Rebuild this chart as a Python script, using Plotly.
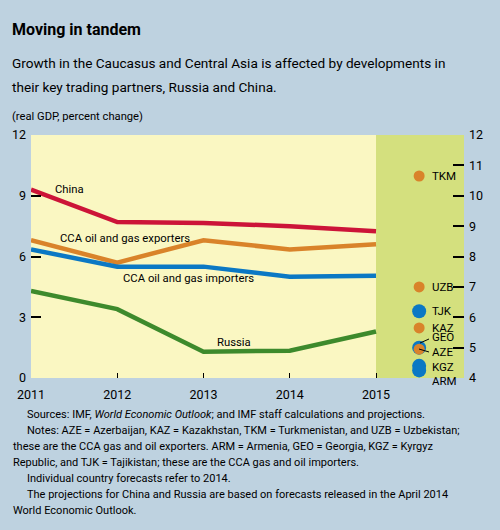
import plotly.graph_objects as go

# real GDP, percent change
years = [2011, 2012, 2013, 2014, 2015]
china = [9.3, 7.7, 7.65, 7.5, 7.25]
cca_exporters = [6.8, 5.7, 6.8, 6.35, 6.6]
cca_importers = [6.35, 5.5, 5.5, 5.0, 5.05]
russia = [4.3, 3.4, 1.3, 1.35, 2.3]

# individual country forecasts (2014), right axis
exporter_codes = ["TKM", "UZB", "KAZ", "AZE"]
exporter_vals = [10.65, 7.0, 5.65, 4.95]
importer_codes = ["TJK", "GEO", "KGZ", "ARM"]
importer_vals = [6.2, 5.0, 4.4, 4.25]
country_x = 2015.5

left_ticks = [0, 3, 6, 9, 12]
right_ticks = [4, 5, 6, 7, 8, 9, 10, 11, 12]

FONT = "Roboto, Lato, sans-serif"
BG = "#BED2E0"
YELLOW = "#FAF7C2"
GREEN_BAND = "#D4E07E"
RED = "#CC1438"
ORANGE = "#D9832A"
BLUE = "#0B78C4"
GREEN = "#3D8A2C"

# plot area in pixels (for placing text outside the axes)
L, R, T, B = 31, 464, 135, 378


def px(x, y):
    return (x - L) / (R - L), (B - y) / (B - T)


def fnt(size):
    return dict(family=FONT, size=size, color="black")


fig = go.Figure()

for vals, col, name in [(china, RED, "China"),
                        (cca_exporters, ORANGE, "CCA oil and gas exporters"),
                        (cca_importers, BLUE, "CCA oil and gas importers"),
                        (russia, GREEN, "Russia")]:
    fig.add_trace(go.Scatter(x=years, y=vals, mode="lines", name=name,
                             line=dict(color=col, width=4.5), cliponaxis=False))

fig.add_trace(go.Scatter(x=[country_x] * len(importer_vals), y=importer_vals, yaxis="y2",
                         mode="markers", marker=dict(color=BLUE, size=14),
                         cliponaxis=False))
fig.add_trace(go.Scatter(x=[country_x] * len(exporter_vals), y=exporter_vals, yaxis="y2",
                         mode="markers", marker=dict(color=ORANGE, size=11),
                         cliponaxis=False))

annotations = []


def text(x, y, s, size=13, xanchor="left"):
    xp, yp = px(x, y)
    annotations.append(dict(x=xp, y=yp, xref="paper", yref="paper", text=s,
                            showarrow=False, xanchor=xanchor, yanchor="middle",
                            font=fnt(size)))


text(10, 29, "<b>Moving in tandem</b>", size=16)
text(10, 63, "Growth in the Caucasus and Central Asia is affected by developments in", size=13.6)
text(10, 87, "their key trading partners, Russia and China.", size=13.6)
text(10, 116, "(real GDP, percent change)", size=11.2)

notes = [
    (25, "Sources: IMF, <i>World Economic Outlook</i>; and IMF staff calculations and projections."),
    (25, "Notes: AZE = Azerbaijan, KAZ = Kazakhstan, TKM = Turkmenistan, and UZB = Uzbekistan;"),
    (11, "these are the CCA gas and oil exporters. ARM = Armenia, GEO = Georgia, KGZ = Kyrgyz"),
    (11, "Republic, and TJK = Tajikistan; these are the CCA gas and oil importers."),
    (25, "Individual country forecasts refer to 2014."),
    (25, "The projections for China and Russia are based on forecasts released in the April 2014"),
    (11, "World Economic Outlook."),
]
for i, (x0, s) in enumerate(notes):
    text(x0, 414 + 16 * i, s, size=11)

# line labels
for lx, ly, s in [(2011.26, 9.3, "China"),
                  (2011.31, 6.9, "CCA oil and gas exporters"),
                  (2012.04, 4.92, "CCA oil and gas importers"),
                  (2013.13, 1.74, "Russia")]:
    annotations.append(dict(x=lx, y=ly, xref="x", yref="y", text=s, showarrow=False,
                            xanchor="left", yanchor="middle", font=fnt(11.3)))

# country labels
label_shift = {"TKM": 0, "UZB": 0, "KAZ": 0, "AZE": -3,
               "TJK": 0, "GEO": 11, "KGZ": -1, "ARM": -11}
for codes, vals in [(exporter_codes, exporter_vals), (importer_codes, importer_vals)]:
    for c, v in zip(codes, vals):
        annotations.append(dict(x=country_x, y=v, xref="x", yref="y2", text=c,
                                showarrow=False, xanchor="left", yanchor="middle",
                                xshift=11, yshift=label_shift[c], font=fnt(11.5)))

shapes = [dict(type="rect", xref="x", yref="paper", x0=2015, x1=2016.02, y0=0, y1=1,
               fillcolor=GREEN_BAND, line=dict(width=0), layer="below")]
# leader lines for GEO and AZE
for (x0, y0), (x1, y1) in [((420, 343), (429, 339)), ((419, 349), (429, 352))]:
    a, b = px(x0, y0)
    c, d = px(x1, y1)
    shapes.append(dict(type="line", xref="paper", yref="paper", x0=a, y0=b, x1=c, y1=d,
                       line=dict(color="black", width=1)))

axis_font = fnt(12.5)
fig.update_layout(
    width=500, height=530,
    margin=dict(l=L, r=500 - R, t=T, b=530 - B),
    paper_bgcolor=BG, plot_bgcolor=YELLOW,
    showlegend=False,
    font=fnt(12),
    annotations=annotations, shapes=shapes,
    xaxis=dict(range=[2011, 2016.02], tickvals=years, ticks="inside", ticklen=5,
               tickcolor="black", tickwidth=1.2, showgrid=False, zeroline=False,
               showline=False, tickfont=axis_font, ticklabelstandoff=7),
    yaxis=dict(range=[0, 12], tickvals=left_ticks, ticks="inside", ticklen=10,
               tickcolor="black", tickwidth=1.5, showgrid=False, zeroline=False,
               showline=False, tickfont=axis_font, ticklabelstandoff=4),
    yaxis2=dict(range=[4, 12], tickvals=right_ticks, overlaying="y", side="right",
                ticks="inside", ticklen=11, tickcolor="black", tickwidth=1.5,
                showgrid=False, zeroline=False, showline=False,
                tickfont=axis_font, ticklabelstandoff=4),
)

# page body has a default 8px margin; drop it so the chart sits at the window corner
fig.write_html("out.html", config={"displayModeBar": False},
               post_script="document.body.style.margin = '0';")
